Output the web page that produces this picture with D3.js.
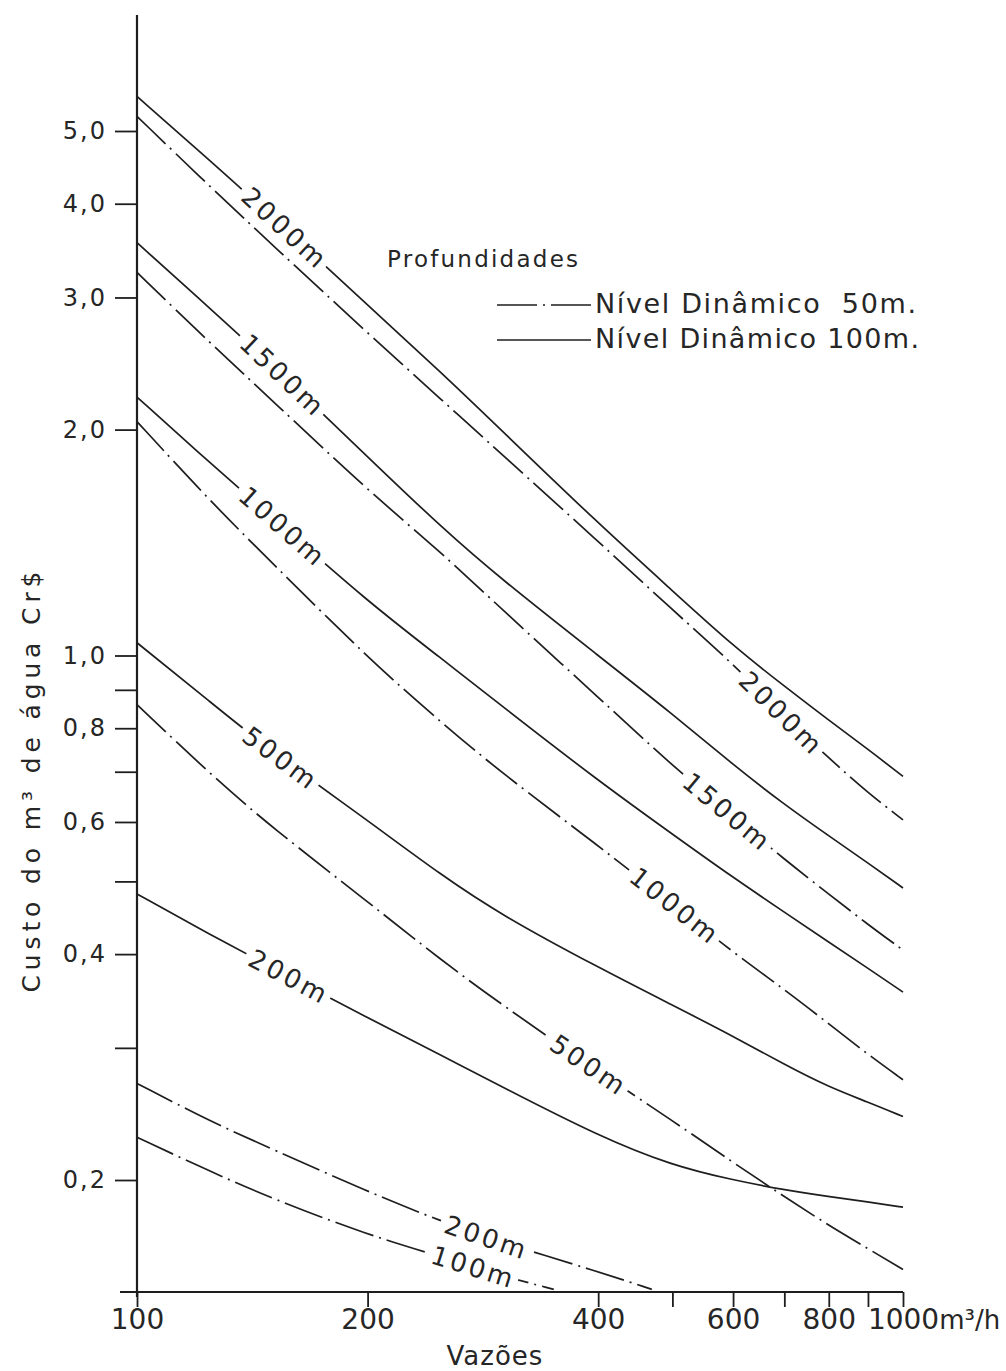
<!DOCTYPE html>
<html>
<head>
<meta charset="utf-8">
<script src="https://cdn.jsdelivr.net/npm/d3@7"></script>
<style>
  body { margin: 0; background: #fff; }
  text { font-family: "DejaVu Sans", sans-serif; fill: #262626; }
</style>
</head>
<body>
<svg id="grafico" width="1006" height="1371"></svg>
<script>
// vazões (m3/h) where the curves were read
const vazoes = [100, 125, 150, 200, 250, 300, 400, 500, 600, 700, 800, 900, 1000]

// custo do m3 (Cr$) - nível dinâmico 100m (solid)
const nd100_2000 = [5.56, 4.55, 3.85, 2.93, 2.38, 1.99, 1.50, 1.22, 1.03, 0.91, 0.82, 0.75, 0.69]
const nd100_1500 = [3.55, 2.89, 2.44, 1.84, 1.48, 1.26, 1.00, 0.836, 0.715, 0.633, 0.575, 0.529, 0.490]
const nd100_1000 = [2.21, 1.80, 1.53, 1.18, 0.99, 0.855, 0.681, 0.578, 0.506, 0.455, 0.415, 0.383, 0.356]
const nd100_500 = [1.04, 0.865, 0.744, 0.603, 0.509, 0.450, 0.384, 0.342, 0.311, 0.285, 0.266, 0.254, 0.243]
const nd100_200 = [0.481, 0.424, 0.384, 0.329, 0.293, 0.266, 0.229, 0.209, 0.200, 0.194, 0.190, 0.187, 0.184]

// custo do m3 (Cr$) - nível dinâmico 50m (dash-dot)
const nd50_2000 = [5.23, 4.20, 3.53, 2.69, 2.19, 1.85, 1.42, 1.15, 0.975, 0.83, 0.73, 0.656, 0.604]
const nd50_1500 = [3.24, 2.60, 2.19, 1.66, 1.37, 1.15, 0.88, 0.713, 0.610, 0.535, 0.481, 0.438, 0.405]
const nd50_1000 = [2.05, 1.60, 1.33, 0.993, 0.813, 0.696, 0.558, 0.467, 0.402, 0.359, 0.323, 0.294, 0.272]
const nd50_500 = [0.86, 0.693, 0.590, 0.470, 0.392, 0.342, 0.279, 0.240, 0.211, 0.190, 0.174, 0.162, 0.152]
const vazoes200 = [100, 125, 150, 200, 250, 300, 400, 470]
const nd50_200 = [0.269, 0.239, 0.220, 0.193, 0.176, 0.165, 0.151, 0.143]
const vazoes100 = [100, 125, 150, 200, 250, 300, 350]
const nd50_100 = [0.228, 0.205, 0.189, 0.169, 0.158, 0.149, 0.143]

const xTicks = [100, 200, 400, 500, 600, 700, 800, 900, 1000]
const xTickLabels = ['100', '200', '400', '', '600', '', '800', '', '1000']
const yTicks = [5, 4, 3, 2, 1, 0.9, 0.8, 0.7, 0.6, 0.5, 0.4, 0.3, 0.2]
const yTickLabels = ['5,0', '4,0', '3,0', '2,0', '1,0', '', '0,8', '', '0,6', '', '0,4', '', '0,2']

const series = [
  {id: 'a2000', prof: '2000m', nivel: 100, xs: vazoes, ys: nd100_2000},
  {id: 'a1500', prof: '1500m', nivel: 100, xs: vazoes, ys: nd100_1500},
  {id: 'a1000', prof: '1000m', nivel: 100, xs: vazoes, ys: nd100_1000},
  {id: 'a500', prof: '500m', nivel: 100, xs: vazoes, ys: nd100_500},
  {id: 'a200', prof: '200m', nivel: 100, xs: vazoes, ys: nd100_200},
  {id: 'b2000', prof: '2000m', nivel: 50, xs: vazoes, ys: nd50_2000},
  {id: 'b1500', prof: '1500m', nivel: 50, xs: vazoes, ys: nd50_1500},
  {id: 'b1000', prof: '1000m', nivel: 50, xs: vazoes, ys: nd50_1000},
  {id: 'b500', prof: '500m', nivel: 50, xs: vazoes, ys: nd50_500},
  {id: 'b200', prof: '200m', nivel: 50, xs: vazoes200, ys: nd50_200},
  {id: 'b100', prof: '100m', nivel: 50, xs: vazoes100, ys: nd50_100}
]

// where (vazão) each inline curve label sits
const rotulos = [
  {id: 'a2000', em: 156}, {id: 'a1500', em: 155}, {id: 'a1000', em: 155},
  {id: 'a500', em: 154}, {id: 'a200', em: 158},
  {id: 'b2000', em: 694}, {id: 'b1500', em: 590}, {id: 'b1000', em: 504},
  {id: 'b500', em: 389}, {id: 'b200', em: 286}, {id: 'b100', em: 275}
]

const svg = d3.select('#grafico')
const x = d3.scaleLog().domain([100, 1000]).range([137, 903])
const y = d3.scaleLog().domain([0.2, 5]).range([1180, 131])
const cor = '#1e1e1e'
const tracoPonto = '40,6,2,6'

// axes lines
svg.append('line').attr('x1', 137).attr('x2', 137).attr('y1', 15).attr('y2', 1297)
  .attr('stroke', cor).attr('stroke-width', 2.2)
svg.append('line').attr('x1', 120).attr('x2', 903).attr('y1', 1292).attr('y2', 1292)
  .attr('stroke', cor).attr('stroke-width', 2.2)

const eixoY = svg.append('g').attr('transform', 'translate(137,0)')
  .call(d3.axisLeft(y).tickValues(yTicks).tickFormat((d, i) => yTickLabels[i]).tickSize(22).tickPadding(8))
eixoY.select('.domain').remove()
eixoY.selectAll('line').attr('stroke', cor).attr('stroke-width', 1.8)
eixoY.selectAll('text').attr('font-size', 24).attr('letter-spacing', 2)
  .attr('font-family', '"DejaVu Sans", sans-serif').attr('fill', '#262626')

const eixoX = svg.append('g').attr('transform', 'translate(0,1292)')
  .call(d3.axisBottom(x).tickValues(xTicks).tickFormat((d, i) => xTickLabels[i]).tickSize(15).tickPadding(2))
eixoX.select('.domain').remove()
eixoX.selectAll('line').attr('stroke', cor).attr('stroke-width', 1.8)
eixoX.selectAll('text').attr('font-size', 28)
  .attr('font-family', '"DejaVu Sans", sans-serif').attr('fill', '#262626')
// last tick: 1000 stays centred, unit trails after it
const ultimo = eixoX.selectAll('.tick text').filter(d => d === 1000)
const larg = ultimo.node().getComputedTextLength()
ultimo.attr('text-anchor', 'start').attr('x', -larg / 2)
ultimo.append('tspan').attr('font-size', 26).text('m³/h')

// curves
const linha = d3.line()
  .x(d => x(d[0]))
  .y(d => y(d[1]))
  .curve(d3.curveBasis)

svg.append('g').selectAll('path')
  .data(series)
  .enter().append('path')
  .attr('d', s => linha(s.xs.map((v, i) => [v, s.ys[i]])))
  .attr('fill', 'none')
  .attr('stroke', cor)
  .attr('stroke-width', 1.7)
  .attr('stroke-dasharray', s => s.nivel === 50 ? tracoPonto : null)

// value of a series at a given vazão (log-log interpolation)
function valorEm(s, v) {
  let i = 0
  while (i < s.xs.length - 2 && s.xs[i + 1] < v) i++
  const t = (Math.log(v) - Math.log(s.xs[i])) / (Math.log(s.xs[i + 1]) - Math.log(s.xs[i]))
  return Math.exp(Math.log(s.ys[i]) + t * (Math.log(s.ys[i + 1]) - Math.log(s.ys[i])))
}

rotulos.forEach(r => {
  const s = series.find(d => d.id === r.id)
  const v0 = r.em / 1.08, v1 = r.em * 1.08
  const ang = Math.atan2(y(valorEm(s, v1)) - y(valorEm(s, v0)), x(v1) - x(v0)) * 180 / Math.PI
  const g = svg.append('g')
    .attr('transform', `translate(${x(r.em)},${y(valorEm(s, r.em))}) rotate(${ang})`)
  const fundo = g.append('rect').attr('fill', '#fff')
  const t = g.append('text')
    .attr('text-anchor', 'middle')
    .attr('dy', '0.36em')
    .attr('font-size', 26)
    .attr('letter-spacing', 3)
    .text(s.prof)
  const w = t.node().getComputedTextLength()
  fundo.attr('x', -w / 2 - 5).attr('y', -10).attr('width', w + 8).attr('height', 20)
})

// legend
svg.append('text').attr('x', 387).attr('y', 267).attr('font-size', 23)
  .attr('textLength', 191).attr('lengthAdjust', 'spacing').text('Profundidades')
const legenda = [
  {nivel: 50, texto: 'Nível Dinâmico\u00a0 50m.', y: 305},
  {nivel: 100, texto: 'Nível Dinâmico 100m.', y: 340}
]
const leg = svg.append('g').selectAll('g').data(legenda).enter().append('g')
leg.append('line')
  .attr('x1', 497).attr('x2', 591)
  .attr('y1', d => d.y).attr('y2', d => d.y)
  .attr('stroke', cor).attr('stroke-width', 1.7)
  .attr('stroke-dasharray', d => d.nivel === 50 ? tracoPonto : null)
leg.append('text')
  .attr('x', 595).attr('y', d => d.y + 8)
  .attr('font-size', 27)
  .attr('textLength', d => d.nivel === 50 ? 321 : 324)
  .attr('lengthAdjust', 'spacing')
  .text(d => d.texto)

// axis titles
svg.append('text')
  .attr('transform', 'translate(40,782) rotate(-90)')
  .attr('text-anchor', 'middle')
  .attr('font-size', 25)
  .attr('textLength', 421).attr('lengthAdjust', 'spacing')
  .text('Custo do m³ de água Cr$')
svg.append('text')
  .attr('x', 495).attr('y', 1365)
  .attr('text-anchor', 'middle')
  .attr('font-size', 26)
  .attr('letter-spacing', 1)
  .text('Vazões')
</script>
</body>
</html>
